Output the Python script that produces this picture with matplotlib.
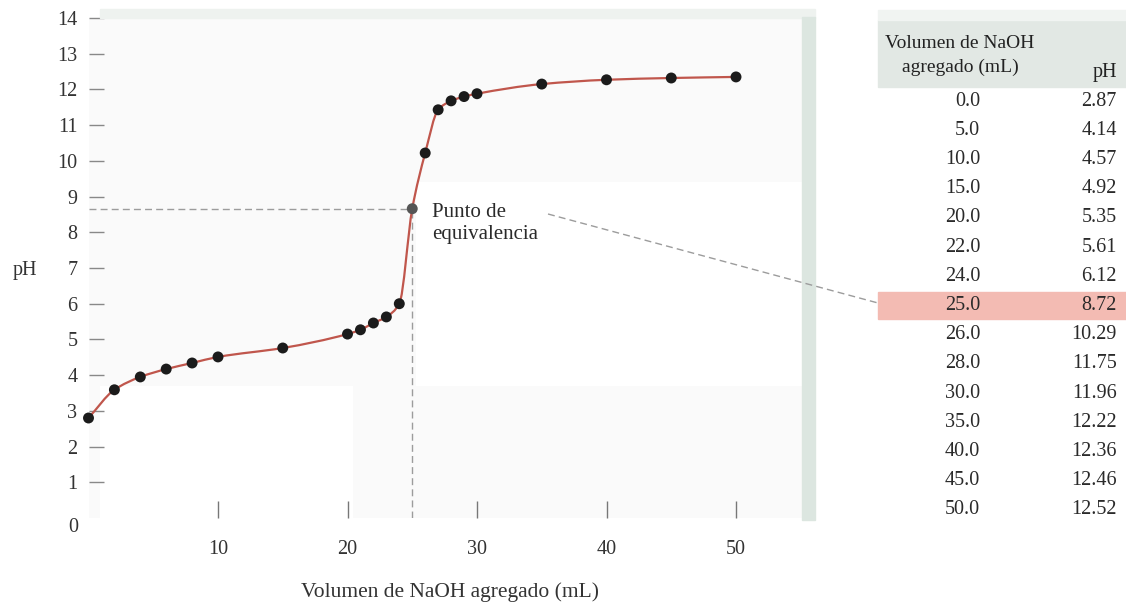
import numpy as np
import matplotlib
matplotlib.use("Agg")
import matplotlib.pyplot as plt
from matplotlib.path import Path
from matplotlib.patches import PathPatch, Rectangle
from matplotlib.lines import Line2D

plt.rcParams['font.family'] = ['Liberation Serif', 'DejaVu Serif']

# Datos de la tabla
table_vol = [0.0, 5.0, 10.0, 15.0, 20.0, 22.0, 24.0, 25.0, 26.0, 28.0, 30.0, 35.0, 40.0, 45.0, 50.0]
table_ph = [2.87, 4.14, 4.57, 4.92, 5.35, 5.61, 6.12, 8.72, 10.29, 11.75, 11.96, 12.22, 12.36, 12.46, 12.52]

# Puntos de la curva
curve_vol = [0, 2, 4, 6, 8, 10, 15, 20, 21, 22, 23, 24, 25, 26, 27, 28, 29, 30, 35, 40, 45, 50]
curve_ph = [2.80, 3.59, 3.95, 4.17, 4.34, 4.51, 4.76, 5.15, 5.27, 5.46, 5.63, 6.00,
            8.66, 10.22, 11.43, 11.68, 11.80, 11.88, 12.15, 12.27, 12.32, 12.35]

x_ticks = [10, 20, 30, 40, 50]
y_ticks = list(range(1, 15))

equiv_vol = 25.0
equiv_ph = 8.66

W, H = 1126, 609


def px(x, y):
    # pixeles de la imagen -> coordenadas de figura
    return x / W, 1 - y / H


vol = np.array(curve_vol, dtype=float)
ph = np.array(curve_ph)

fig = plt.figure(figsize=(W / 100, H / 100), dpi=100)
fig.patch.set_facecolor('white')

# fondo del panel
fig.patches.append(Rectangle(px(100, 18), 715 / W, 9 / H, transform=fig.transFigure,
                             color='#eef2ef', zorder=0))
fig.patches.append(Rectangle(px(802, 520), 13 / W, 503 / H, transform=fig.transFigure,
                             color='#dce6e0', zorder=0))

left, right = px(88.5, 0)[0], px(802, 0)[0]
bottom, top = px(0, 518)[1], px(0, 18)[1]
ax = fig.add_axes([left, bottom, right - left, top - bottom])
ax.set_xlim(0, (802 - 88.5) / 12.95)
ax.set_ylim(0, 14)
ax.set_facecolor('#fafafa')
for s in ax.spines.values():
    s.set_visible(False)

# zonas blancas del panel
ax.add_patch(Rectangle((25.3, 6.4), 9.6, 3.0, color='white', zorder=1, lw=0))
ax.add_patch(Rectangle((34.9, 3.7), 20.2, 5.7, color='white', zorder=1, lw=0))
ax.add_patch(Rectangle((25.3, 3.7), 9.6, 2.8, color='white', zorder=1, lw=0))
ax.add_patch(Rectangle((0.9, 0), 19.5, 3.7, color='white', zorder=1, lw=0))

# curva suave (Hermite monotona) como segmentos Bezier
h = np.diff(vol)
d = np.diff(ph) / h
m = np.zeros_like(ph)
m[0], m[-1] = d[0], d[-1]
for i in range(1, len(ph) - 1):
    if d[i - 1] * d[i] <= 0:
        m[i] = 0
    else:
        w1 = 2 * h[i] + h[i - 1]
        w2 = h[i] + 2 * h[i - 1]
        m[i] = (w1 + w2) / (w1 / d[i - 1] + w2 / d[i])
verts = [(vol[0], ph[0])]
codes = [Path.MOVETO]
for i in range(len(h)):
    verts += [(vol[i] + h[i] / 3, ph[i] + m[i] * h[i] / 3),
              (vol[i + 1] - h[i] / 3, ph[i + 1] - m[i + 1] * h[i] / 3),
              (vol[i + 1], ph[i + 1])]
    codes += [Path.CURVE4] * 3
ax.add_patch(PathPatch(Path(verts, codes), fill=False, edgecolor='#c0564c', lw=1.6,
                       zorder=3, clip_on=False))

# lineas punteadas al punto de equivalencia
ax.plot([0, equiv_vol], [equiv_ph, equiv_ph], ls=(0, (5, 3)), color='#9c9c9c', lw=1, zorder=2)
ax.plot([equiv_vol, equiv_vol], [0, equiv_ph], ls=(0, (5, 3)), color='#9c9c9c', lw=1, zorder=2)

colors = ['#555555' if v == equiv_vol else '#1b1b1b' for v in vol]
ax.scatter(vol, ph, s=62, c=colors, zorder=4, clip_on=False, linewidths=0)

ax.text(26.5, equiv_ph - 0.42, 'Punto de\nequivalencia', fontsize=15, va='center',
        ha='left', color='#2a2a2a', linespacing=1.2, zorder=5)

ax.set_xticks(x_ticks)
ax.set_xticklabels([str(t) for t in x_ticks])
ax.set_yticks(y_ticks)
ax.set_yticklabels([str(t) for t in y_ticks])
ax.tick_params(axis='y', direction='in', length=11, width=1, color='#888888', pad=8,
               labelsize=14.5, labelcolor='#333333')
ax.tick_params(axis='x', direction='in', length=12, width=1, color='#777777', pad=16,
               labelsize=14.5, labelcolor='#333333')
fig.text(*px(78, 528), '0', ha='right', va='center', fontsize=14.5, color='#333333')

fig.text(*px(25, 270), 'pH', ha='center', va='center', fontsize=14.5, color='#333333')
fig.text(*px(450, 592), 'Volumen de NaOH agregado (mL)', ha='center', va='center',
         fontsize=15.5, color='#333333')

# tabla
fig.patches.append(Rectangle(px(878, 87), 248 / W, 67 / H, transform=fig.transFigure,
                             color='#e2e8e4', zorder=0))
fig.patches.append(Rectangle(px(878, 20), 248 / W, 10 / H, transform=fig.transFigure,
                             color='#f1f4f2', zorder=0))
fig.text(*px(960, 43), 'Volumen de NaOH', ha='center', va='center',
         fontsize=14, color='#222222')
fig.text(*px(960, 67), 'agregado (mL)', ha='center', va='center',
         fontsize=14, color='#222222')
fig.text(*px(1117, 73), 'pH', ha='right', va='center', fontsize=14.5, color='#222222')

row_y0, row_dy = 101, 29.2
for i, (v, p) in enumerate(zip(table_vol, table_ph)):
    y = row_y0 + i * row_dy
    if v == equiv_vol:
        fig.patches.append(Rectangle(px(878, y + 13.5), 248 / W, 27 / H,
                                     transform=fig.transFigure, color='#f3bbb3', zorder=0))
    fig.text(*px(980, y), f'{v:.1f}', ha='right', va='center', fontsize=14.5, color='#2a2a2a')
    fig.text(*px(1117, y), f'{p:.2f}', ha='right', va='center', fontsize=14.5, color='#2a2a2a')

# linea punteada de la etiqueta a la fila de la tabla
fig.lines.append(Line2D([548 / W, 878 / W], [1 - 214 / H, 1 - 303 / H],
                        transform=fig.transFigure, ls=(0, (5, 3)), color='#9c9c9c', lw=1))

fig.savefig('out.png', dpi=100)
